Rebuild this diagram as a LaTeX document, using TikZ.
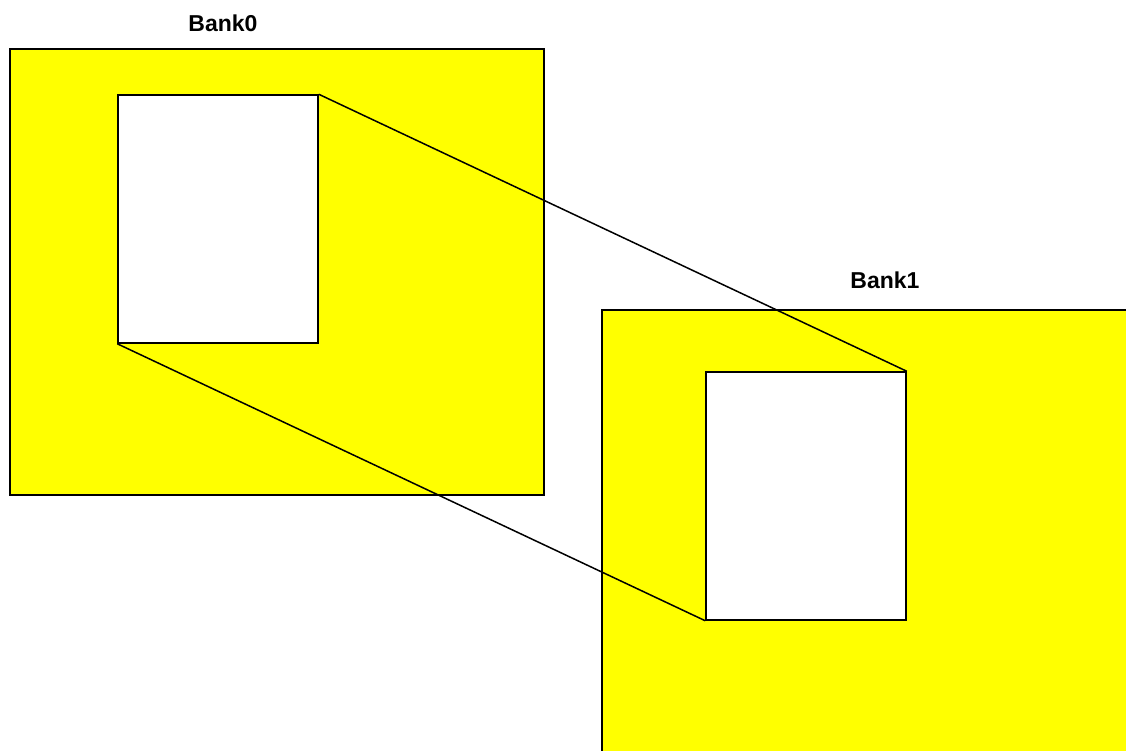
\documentclass[tikz,border=0pt]{standalone}
\usepackage{fontspec}
\setmainfont{Liberation Sans}
\definecolor{pureyellow}{RGB}{255,255,0}
\begin{document}
\begin{tikzpicture}[x=1pt,y=-1pt,
  bank/.style={draw=black,fill=pureyellow,line width=1.5pt,inner sep=0pt,minimum width=#1},
  win/.style={draw=black,fill=white,line width=1.5pt,inner sep=0pt,minimum width=200pt,minimum height=248pt},
  lbl/.style={font=\fontsize{23}{26}\selectfont\bfseries,inner sep=0pt},
  link/.style={draw=black,line width=1.5pt}]
\useasboundingbox (0,0) rectangle (1126,750);
\clip (0,0) rectangle (1126,750);
\node[bank=534pt,minimum height=446pt] (b0) at (277,272) {};
\node[bank=560pt,minimum height=480pt] (b1) at (882,550) {};
\node[win] (w0) at (218,219) {};
\node[win] (w1) at (806,496) {};
\node[lbl] (t0) at (223,23) {Bank0};
\node[lbl] (t1) at (885,280) {Bank1};
\draw[link] (w0.north east) -- (w1.north east);
\draw[link] (w0.south west) -- (w1.south west);
\end{tikzpicture}
\end{document}
